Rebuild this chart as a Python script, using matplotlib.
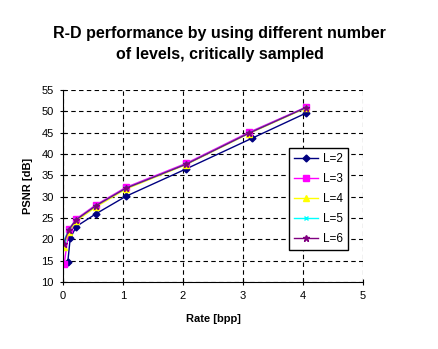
import matplotlib
matplotlib.use('Agg')
import matplotlib.pyplot as plt

plt.rcParams['font.family'] = ['Liberation Sans', 'DejaVu Sans']

# rate [bpp] and PSNR [dB] per number of levels
rate_L2 = [0.08, 0.12, 0.22, 0.55, 1.05, 2.05, 3.15, 4.05]
psnr_L2 = [14.7, 20.2, 23.0, 26.0, 30.1, 36.5, 43.7, 49.6]
rate_L3 = [0.02, 0.10, 0.22, 0.55, 1.05, 2.05, 3.10, 4.05]
psnr_L3 = [14.2, 22.4, 24.8, 28.1, 32.2, 37.8, 45.1, 51.0]
rate_L4 = [0.01, 0.10, 0.22, 0.55, 1.05, 2.05, 3.10, 4.05]
psnr_L4 = [18.2, 21.8, 24.3, 27.6, 31.8, 37.5, 44.8, 50.8]
rate_L5 = [0.01, 0.10, 0.22, 0.55, 1.05, 2.05, 3.10, 4.05]
psnr_L5 = [19.6, 22.3, 24.6, 27.9, 32.0, 37.6, 44.9, 50.9]
rate_L6 = [0.01, 0.10, 0.22, 0.55, 1.05, 2.05, 3.10, 4.05]
psnr_L6 = [19.0, 22.3, 24.6, 27.9, 32.0, 37.6, 44.9, 50.9]

fig = plt.figure(figsize=(4.39, 3.49), dpi=100)
ax = fig.add_axes([0.1435, 0.192, 0.6835, 0.55])

ax.plot(rate_L2, psnr_L2, color='#000080', marker='D', ms=3.5, lw=1, label='L=2')
ax.plot(rate_L3, psnr_L3, color='#ff00ff', marker='s', ms=4.5, lw=1, label='L=3')
ax.plot(rate_L4, psnr_L4, color='#ffff00', marker='^', ms=4.5, lw=1, label='L=4')
ax.plot(rate_L5, psnr_L5, color='#00ffff', marker='x', ms=3.5, lw=1, label='L=5')
ax.plot(rate_L6, psnr_L6, color='#800080', marker='*', ms=4.5, lw=1, label='L=6')

ax.set_xlim(0, 5)
ax.set_ylim(10, 55)
ax.set_xticks(range(0, 6))
ax.set_yticks(range(10, 60, 5))
ax.grid(True, color='black', linestyle=(0, (4, 3)), linewidth=0.8)
ax.spines['top'].set_visible(False)
ax.spines['right'].set_visible(False)
ax.tick_params(labelsize=8, direction='inout', length=5, pad=4)

ax.set_xlabel('Rate [bpp]', fontsize=8, fontweight='bold', labelpad=9)
ax.set_ylabel('PSNR [dB]', fontsize=8, fontweight='bold', labelpad=6)
fig.text(0.5, 0.925, 'R-D performance by using different number\nof levels, critically sampled',
         ha='center', va='top', fontsize=11.5, fontweight='bold', linespacing=1.5)

leg = ax.legend(loc='upper left', bbox_to_anchor=(0.753, 0.7), fontsize=8.5,
                frameon=True, fancybox=False, edgecolor='black',
                handlelength=2.0, handletextpad=0.4, labelspacing=0.68,
                borderpad=0.45, borderaxespad=0)
leg.get_frame().set_linewidth(1)
leg.get_frame().set_alpha(1)

plt.savefig('out.png', dpi=100)
